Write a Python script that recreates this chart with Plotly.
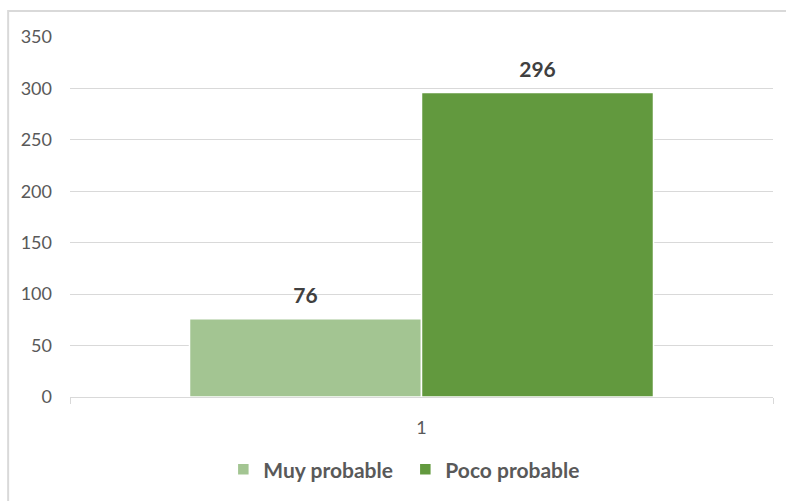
import plotly.graph_objects as go

categories = ["1"]
series_names = ["Muy probable", "Poco probable"]
muy_probable = [76]
poco_probable = [296]
y_ticks = [0, 50, 100, 150, 200, 250, 300, 350]

colors = ["#A3C592", "#62993E"]
font_family = "Lato, 'Noto Sans', sans-serif"
bar_gap = 0.34

fig = go.Figure()
for i, (name, vals, col) in enumerate(zip(series_names, [muy_probable, poco_probable], colors)):
    fig.add_trace(go.Bar(
        x=categories, y=vals, name=name, offsetgroup=str(i),
        marker=dict(color=col, line=dict(color="white", width=1.5)),
    ))
    # value labels: text-only scatter aligned with each bar's group slot;
    # the invisible marker keeps the label a little above the bar top
    fig.add_trace(go.Scatter(
        x=categories, y=vals, offsetgroup=str(i), mode="markers+text",
        text=[str(v) for v in vals], textposition="top center",
        marker=dict(size=15, opacity=0),
        textfont=dict(family=font_family, size=21, color="#404040", weight="bold"),
        showlegend=False, hoverinfo="skip", cliponaxis=False,
    ))

fig.update_layout(
    width=786, height=501,
    margin=dict(l=70, r=13, t=37, b=104, autoexpand=False),
    paper_bgcolor="white", plot_bgcolor="white",
    barmode="group", bargap=bar_gap, bargroupgap=0.0,
    scattermode="group", scattergap=bar_gap,
    font=dict(family=font_family, size=18, color="#595959"),
    showlegend=True,
    legend=dict(orientation="h", x=0.477, xanchor="center", y=-0.202, yanchor="middle",
                font=dict(size=21, color="#595959", weight="bold"),
                itemwidth=30, entrywidth=137, entrywidthmode="pixels",
                traceorder="normal"),
    xaxis=dict(type="category", showgrid=False, showline=True, linecolor="#D9D9D9",
               linewidth=1, ticks="outside", tickson="boundaries", ticklen=6,
               tickcolor="#D9D9D9", ticklabelstandoff=14,
               tickfont=dict(size=18, color="#595959")),
    yaxis=dict(range=[0, 350], tickvals=y_ticks, showgrid=True, gridcolor="#D9D9D9",
               gridwidth=1, zeroline=False, showline=False, ticks="",
               ticklabelstandoff=17, tickfont=dict(size=18, color="#595959")),
    shapes=[dict(type="rect", xref="paper", yref="paper",
                 x0=-0.088, x1=1.03, y0=-0.32, y1=1.072,
                 line=dict(color="#D9D9D9", width=2), layer="below")],
)

fig.write_html("out.html")
